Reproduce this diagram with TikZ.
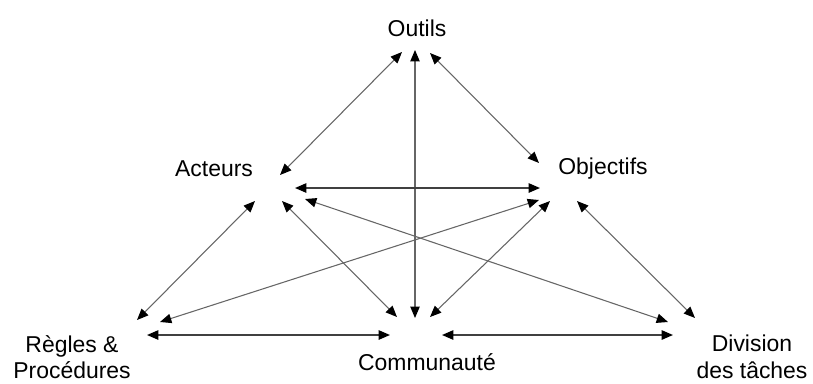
\documentclass[tikz,border=0pt]{standalone}
\usepackage{fontspec}
\setmainfont{Liberation Sans}
\usetikzlibrary{arrows.meta}
\tikzset{
  lien/.style={{Triangle[length=8.5pt,width=7pt,color=black]}-{Triangle[length=8.5pt,width=7pt,color=black]}, line width=0.8pt, draw=black!60},
  lienh/.style={lien, line width=1.2pt, draw=black!75},
  lbl/.style={font=\fontsize{17.2}{20}\selectfont, align=center, inner sep=0pt}
}
\begin{document}
\begin{tikzpicture}[x=0.75pt,y=-0.75pt]
\useasboundingbox (0,0) rectangle (813,383);
\node[lbl] (outils) at (417,28) {Outils};
\node[lbl] (acteurs) at (214,169) {Acteurs};
\node[lbl] (objectifs) at (603,169) {Objectifs};
\node[lbl] (regles) at (72,357) {Règles \&\\Procédures};
\node[lbl] (commu) at (427,362) {Communauté};
\node[lbl] (division) at (752,357) {Division\\des tâches};
\coordinate (o1) at (402,52);
\coordinate (o2) at (415,50);
\coordinate (o3) at (430,53);
\coordinate (a1) at (280,175);
\coordinate (a2) at (295,188);
\coordinate (a3) at (255,201);
\coordinate (a4) at (282,201);
\coordinate (a5) at (305,199);
\coordinate (b1) at (539,163);
\coordinate (b2) at (540,188);
\coordinate (b3) at (539,200);
\coordinate (b4) at (550,201);
\coordinate (b5) at (577,201);
\coordinate (r1) at (137,320);
\coordinate (r2) at (160,322);
\coordinate (r3) at (147,335);
\coordinate (c1) at (397,317);
\coordinate (c2) at (415,318);
\coordinate (c3) at (430,317);
\coordinate (c4) at (390,335);
\coordinate (c5) at (442,335);
\coordinate (d1) at (668,322);
\coordinate (d2) at (695,318);
\coordinate (d3) at (673,335);
\draw[lien] (o1) -- (a1);
\draw[lien] (o2) -- (c2);
\draw[lien] (o3) -- (b1);
\draw[lienh] (a2) -- (b2);
\draw[lien] (a3) -- (r1);
\draw[lien] (a4) -- (c1);
\draw[lien] (a5) -- (d1);
\draw[lien] (b3) -- (r2);
\draw[lien] (b4) -- (c3);
\draw[lien] (b5) -- (d2);
\draw[lienh] (r3) -- (c4);
\draw[lienh] (c5) -- (d3);
\end{tikzpicture}
\end{document}
